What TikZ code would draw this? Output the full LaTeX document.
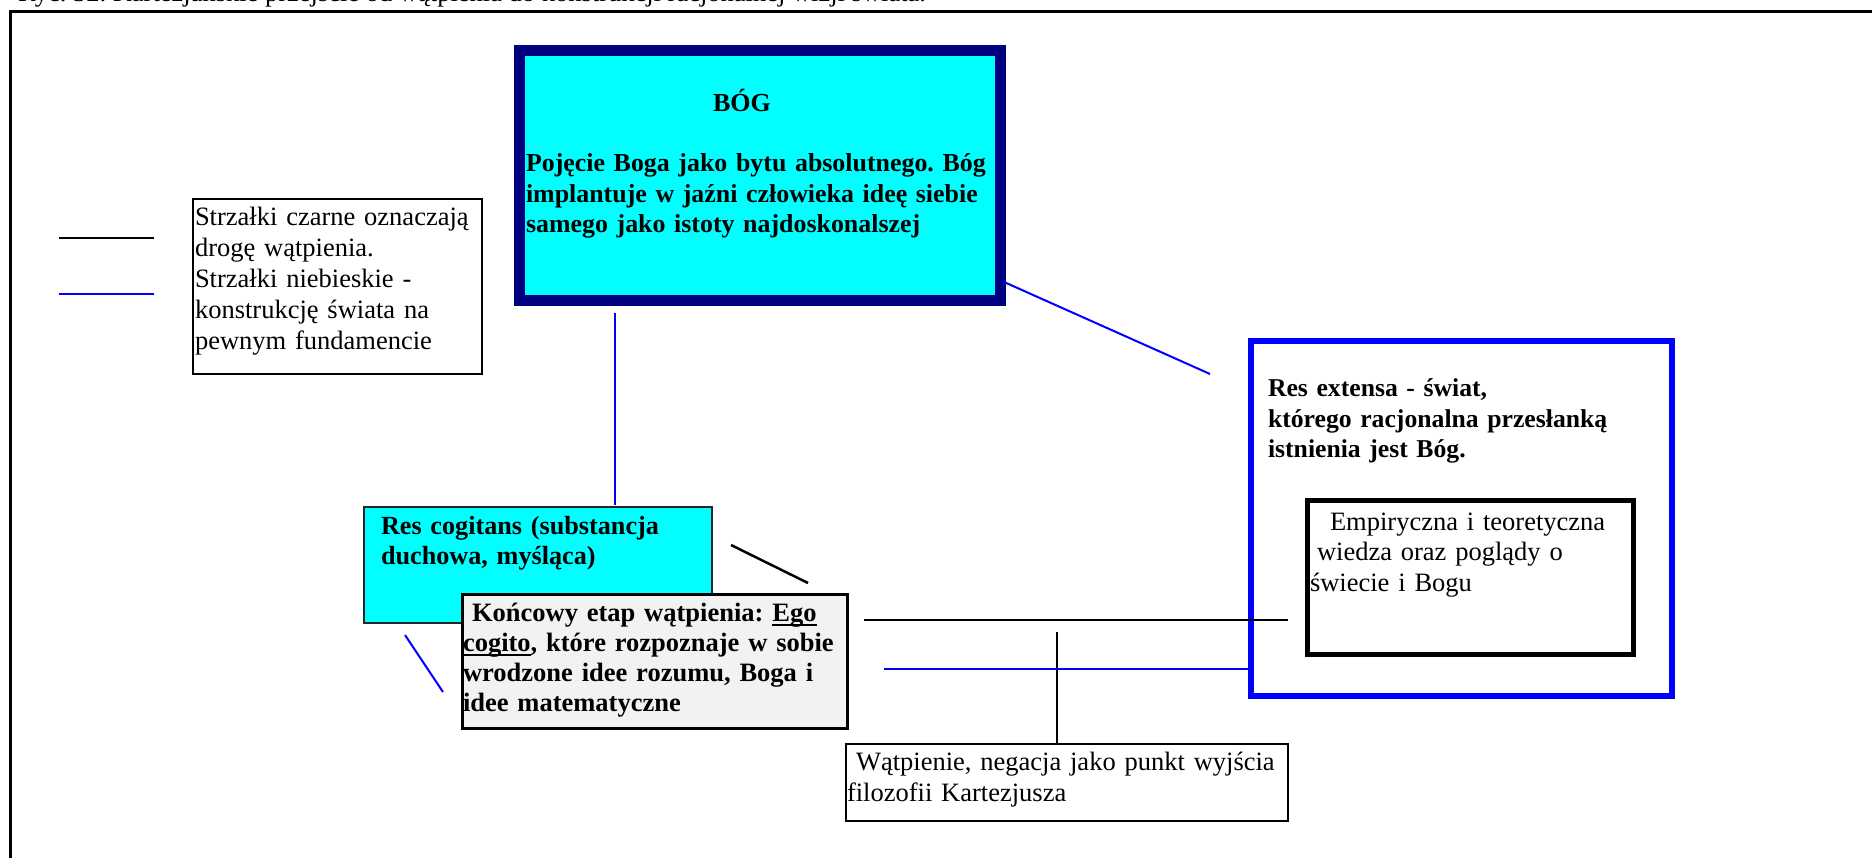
\documentclass[tikz,border=0pt]{standalone}
\usepackage{fontspec}
\setmainfont{Liberation Serif}
\frenchspacing
\definecolor{cyanbox}{RGB}{0,255,255}
\definecolor{navybox}{RGB}{0,0,128}
\definecolor{bluebox}{RGB}{0,0,255}
\definecolor{greybox}{RGB}{242,242,242}
\newcommand\thickul[1]{\leavevmode\setbox0\hbox{#1}\rlap{\rule[-4.5pt]{\wd0}{2pt}}#1}
\begin{document}
\begin{tikzpicture}[x=1pt,y=-1pt,
  box/.style={draw, inner sep=0pt, outer sep=0pt, anchor=north west},
  txt/.style={inner sep=0pt, outer sep=0pt, anchor=base west, text width=#1, align=left,
    font=\fontsize{26.5}{30.5}\selectfont},
  txtb/.style={txt=#1, font=\fontsize{26.5}{30.5}\selectfont\bfseries},
  blueline/.style={draw=bluebox, line width=2pt},
  blackline/.style={draw=black, line width=2.5pt}]
\useasboundingbox (0,0) rectangle (1872,858);
\begin{scope}
\clip (0,0) rectangle (1872,858);
% title (cut off at top)
\node[inner sep=0pt, anchor=base west, font=\fontsize{26.5}{30.5}\selectfont] (title) at (18,2)
  {Ryc. 32. Kartezjańskie przejście od wątpienia do konstrukcji racjonalnej wizji świata.};
% outer frame
\draw[line width=3pt] (10,880) -- (10,12) -- (1890,12);

% legend
\coordinate (lk1) at (59,238); \coordinate (lk2) at (154,238);
\coordinate (lb1) at (59,294); \coordinate (lb2) at (154,294);
\draw[blackline, line width=2.2pt] (lk1) -- (lk2);
\draw[blueline] (lb1) -- (lb2);
\node[box, line width=2pt, minimum width=289pt, minimum height=175pt] (legend) at (192.5,199) {};
\node[txt=600pt, font=\fontsize{26.5}{30.8}\selectfont] (legendtxt) at (195,226)
  {Strzałki czarne oznaczają\\drogę wątpienia.\\Strzałki niebieskie -\\konstrukcję świata na\\pewnym fundamencie};

% BOG
\node[box, draw=navybox, fill=cyanbox, line width=11pt, minimum width=480.5pt, minimum height=250pt] (bog) at (519.5,50.5) {};
\node[inner sep=0pt, anchor=base, font=\fontsize{26}{30.5}\selectfont\bfseries] (bogtitle) at (742,112) {BÓG};
\node[txtb=600pt, font=\fontsize{25.9}{30.5}\selectfont\bfseries] (bogtxt) at (526,172)
  {Pojęcie Boga jako bytu absolutnego. Bóg\\implantuje w jaźni człowieka ideę siebie\\samego jako istoty najdoskonalszej};

% Res cogitans
\node[box, fill=cyanbox, draw=black!85, line width=2.5pt, minimum width=348pt, minimum height=116pt] (cog) at (364,507) {};
\node[txtb=600pt, font=\fontsize{26.2}{30}\selectfont\bfseries] (cogtxt) at (381,534) {Res cogitans (substancja\\duchowa, myśląca)};

% Koncowy etap
\node[box, fill=greybox, line width=3pt, minimum width=385pt, minimum height=134pt] (kon) at (462,594) {};
\node[txtb=600pt, font=\fontsize{26.5}{30.3}\selectfont\bfseries] (kontxt) at (463,621)
  {\hspace*{9pt}Końcowy etap wątpienia: \thickul{Ego}\\\thickul{cogito}, które rozpoznaje w sobie\\wrodzone idee rozumu, Boga i\\idee matematyczne};

% Res extensa
\node[box, draw=bluebox, line width=6pt, minimum width=421pt, minimum height=355pt] (ext) at (1251,341) {};
\node[txtb=600pt, font=\fontsize{25.7}{30.5}\selectfont\bfseries] (exttxt) at (1268,397)
  {Res extensa - świat,\\którego racjonalna przesłanką\\istnienia jest Bóg.};
\node[box, line width=5pt, minimum width=326pt, minimum height=154pt] (emp) at (1307,500) {};
\node[txt=600pt] (emptxt) at (1310,530)
  {\hspace*{20pt}Empiryczna i teoretyczna\\\hspace*{7pt}wiedza oraz poglądy o\\świecie i Bogu};

% Watpienie
\node[box, line width=2.5pt, minimum width=442pt, minimum height=77pt] (wat) at (846,744) {};
\node[txt=600pt, font=\fontsize{26.5}{31}\selectfont] (wattxt) at (847,770)
  {\hspace*{9pt}Wątpienie, negacja jako punkt wyjścia\\filozofii Kartezjusza};

% connectors
\coordinate (c1a) at (615,313); \coordinate (c1b) at (615,505);
\draw[blueline] (c1a) -- (c1b);
\coordinate (c2a) at (1004,282); \coordinate (c2b) at (1210,374);
\draw[blueline] (c2a) -- (c2b);
\coordinate (c3a) at (731,545); \coordinate (c3b) at (808,583);
\draw[blackline] (c3a) -- (c3b);
\coordinate (c4a) at (405,635); \coordinate (c4b) at (443,692);
\draw[blueline] (c4a) -- (c4b);
\coordinate (c5a) at (864,620); \coordinate (c5b) at (1288,620);
\draw[blackline] (c5a) -- (c5b);
\coordinate (c6a) at (1057,632);
\draw[blackline] (c6a) -- (c6a |- wat.north);
\coordinate (c7a) at (884,669);
\draw[blueline] (c7a) -- (c7a -| ext.west);
\end{scope}
\end{tikzpicture}
\end{document}
